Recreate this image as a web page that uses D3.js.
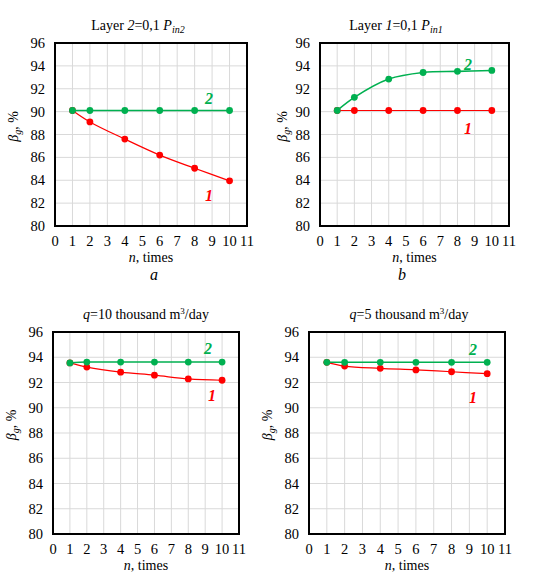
<!DOCTYPE html>
<html>
<head>
<meta charset="utf-8">
<script src="https://cdn.jsdelivr.net/npm/d3@7"></script>
<style>
  body { margin: 0; background: #fff; }
</style>
</head>
<body>
<svg id="chart" width="552" height="577"></svg>
<script>
// data
var nValues = [1, 2, 4, 6, 8, 10]
var xTicks = [0, 1, 2, 3, 4, 5, 6, 7, 8, 9, 10, 11]
var yTicks = [80, 82, 84, 86, 88, 90, 92, 94, 96]

var aLine1 = [90.1, 89.1, 87.6, 86.2, 85.05, 83.95]
var aLine2 = [90.1, 90.1, 90.1, 90.1, 90.1, 90.1]
var bLine1 = [90.1, 90.1, 90.1, 90.1, 90.1, 90.1]
var bLine2 = [90.1, 91.25, 92.85, 93.42, 93.52, 93.6]
var cLine1 = [93.55, 93.22, 92.82, 92.58, 92.28, 92.18]
var cLine2 = [93.55, 93.62, 93.62, 93.62, 93.62, 93.62]
var dLine1 = [93.6, 93.3, 93.12, 93.0, 92.85, 92.7]
var dLine2 = [93.6, 93.6, 93.6, 93.6, 93.6, 93.6]

var red = "#ff0000", green = "#00b050"
var fontSerif = "'Liberation Serif', 'Times New Roman', serif"

var svg = d3.select("#chart").style("font-family", fontSerif)

var panels = [
  { left: 55, right: 247, top: 43, bottom: 226, s1: aLine1, s2: aLine2,
    title: "a", titleX: 138, letter: "a", letterX: 154, lab2: [209, 104], lab1: [209, 201], ylabX: 18 },
  { left: 320, right: 509, top: 43, bottom: 226, s1: bLine1, s2: bLine2,
    title: "b", titleX: 396, letter: "b", letterX: 402, lab2: [468, 70], lab1: [468, 134], ylabX: 287 },
  { left: 53, right: 239, top: 332, bottom: 534, s1: cLine1, s2: cLine2,
    title: "c", titleX: 146, letter: null, lab2: [208, 354], lab1: [212, 401], ylabX: 16 },
  { left: 309, right: 505, top: 332, bottom: 534, s1: dLine1, s2: dLine2,
    title: "d", titleX: 409, letter: null, lab2: [473, 355], lab1: [473, 403], ylabX: 272 }
]

panels.forEach(function(p) {
  var x = d3.scaleLinear().domain([0, 11]).range([p.left, p.right])
  var y = d3.scaleLinear().domain([80, 96]).range([p.bottom, p.top])
  var g = svg.append("g").style("font-family", fontSerif)

  // grid
  g.selectAll("line.vg").data(xTicks.slice(1, -1)).enter().append("line")
    .attr("x1", function(d) { return x(d) }).attr("x2", function(d) { return x(d) })
    .attr("y1", p.top).attr("y2", p.bottom)
    .style("stroke", "#d9d9d9").style("stroke-width", 1)
  g.selectAll("line.hg").data(yTicks.slice(1, -1)).enter().append("line")
    .attr("y1", function(d) { return y(d) }).attr("y2", function(d) { return y(d) })
    .attr("x1", p.left).attr("x2", p.right)
    .style("stroke", "#d9d9d9").style("stroke-width", 1)

  g.append("rect")
    .attr("x", p.left).attr("y", p.top)
    .attr("width", p.right - p.left).attr("height", p.bottom - p.top)
    .style("fill", "none").style("stroke", "#000").style("stroke-width", 2)

  // tick labels
  g.selectAll("text.xt").data(xTicks).enter().append("text")
    .attr("x", function(d) { return x(d) }).attr("y", p.bottom + 20)
    .attr("text-anchor", "middle").style("font-size", "14.5px")
    .text(function(d) { return d })
  g.selectAll("text.yt").data(yTicks).enter().append("text")
    .attr("x", p.left - 10).attr("y", function(d) { return y(d) + 5 })
    .attr("text-anchor", "end").style("font-size", "14.5px")
    .text(function(d) { return d })

  // axis titles
  var xt = g.append("text")
    .attr("x", (p.left + p.right) / 2).attr("y", p.bottom + 35.5)
    .attr("text-anchor", "middle").style("font-size", "14px")
  xt.append("tspan").style("font-style", "italic").text("n")
  xt.append("tspan").text(", times")

  var yt = g.append("text")
    .attr("transform", "translate(" + p.ylabX + "," + ((p.top + p.bottom) / 2 - 8) + ") rotate(-90)")
    .attr("text-anchor", "middle").style("font-size", "14px")
  yt.append("tspan").style("font-style", "italic").text("β")
  yt.append("tspan").style("font-style", "italic").style("font-size", "10px").attr("dy", 3).text("g")
  yt.append("tspan").attr("dy", -3).text(", %")

  // title
  var t = g.append("text")
    .attr("x", p.titleX).attr("y", p.top - 13)
    .attr("text-anchor", "middle").style("font-size", "14px")
  if (p.title == "a" || p.title == "b") {
    var num = p.title == "a" ? "2" : "1"
    t.append("tspan").text("Layer ")
    t.append("tspan").style("font-style", "italic").text(num)
    t.append("tspan").text("=0,1 ")
    t.append("tspan").style("font-style", "italic").text("P")
    t.append("tspan").style("font-style", "italic").style("font-size", "10px").attr("dy", 3).text("in" + num)
  } else {
    t.append("tspan").style("font-style", "italic").text("q")
    t.append("tspan").text(p.title == "c" ? "=10 thousand m" : "=5 thousand m")
    t.append("tspan").style("font-size", "9px").attr("dy", -5).text("3")
    t.append("tspan").attr("dy", 5).text("/day")
  }

  if (p.letter) {
    g.append("text")
      .attr("x", p.letterX).attr("y", p.bottom + 54)
      .attr("text-anchor", "middle").style("font-size", "16px").style("font-style", "italic")
      .text(p.letter)
  }

  var line = d3.line()
    .x(function(d, i) { return x(nValues[i]) })
    .y(function(d) { return y(d) })
    .curve(d3.curveCatmullRom)

  ;[[p.s1, red, 1.2], [p.s2, green, 1.6]].forEach(function(s) {
    g.append("path").attr("d", line(s[0]))
      .style("fill", "none").style("stroke", s[1]).style("stroke-width", s[2])
    g.selectAll(null).data(s[0]).enter().append("circle")
      .attr("cx", function(d, i) { return x(nValues[i]) })
      .attr("cy", function(d) { return y(d) })
      .attr("r", 3.4).style("fill", s[1])
  })

  g.append("text").attr("x", p.lab2[0]).attr("y", p.lab2[1])
    .attr("text-anchor", "middle").style("font-size", "16px")
    .style("font-style", "italic").style("font-weight", "bold").style("fill", green).text("2")
  g.append("text").attr("x", p.lab1[0]).attr("y", p.lab1[1])
    .attr("text-anchor", "middle").style("font-size", "16px")
    .style("font-style", "italic").style("font-weight", "bold").style("fill", red).text("1")
})
</script>
</body>
</html>
